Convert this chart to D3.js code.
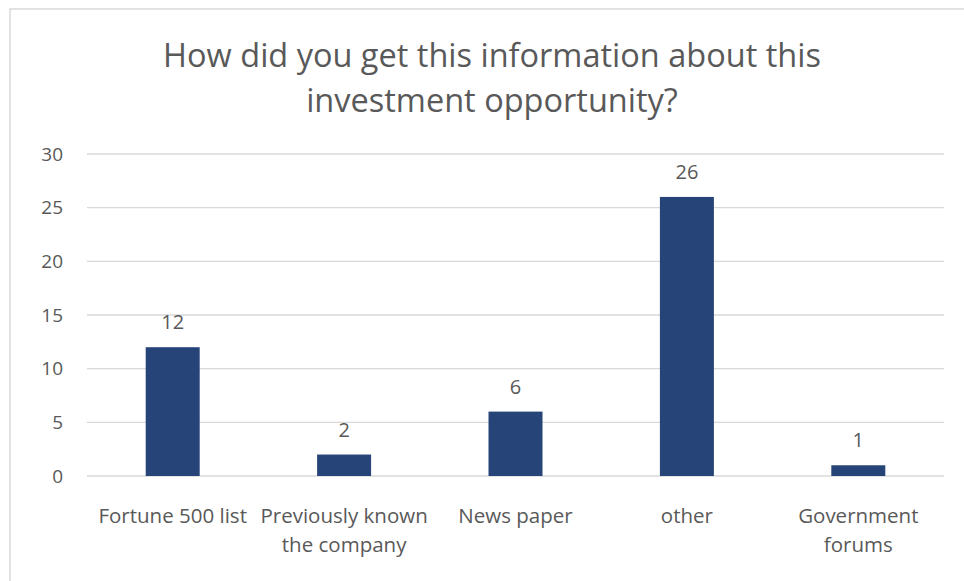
<!DOCTYPE html>
<html>
<head>
<meta charset="utf-8">
<script src="https://cdn.jsdelivr.net/npm/d3@7"></script>
<style>
  html, body { margin: 0; padding: 0; background: #fff; }
  svg { display: block; }
  text { font-family: "Open Sans", "Liberation Sans", sans-serif; fill: #595959; }
</style>
</head>
<body>
<svg id="chart" width="964" height="581"></svg>
<script>
// Survey answers: where respondents heard about the investment opportunity
const categories = [
  ["Fortune 500 list"],
  ["Previously known", "the company"],
  ["News paper"],
  ["other"],
  ["Government", "forums"]
];
const counts = [12, 2, 6, 26, 1];
const yTicks = [0, 5, 10, 15, 20, 25, 30];
const titleLines = ["How did you get this information about this", "investment opportunity?"];

const svg = d3.select("#chart");
const W = 964, H = 581;
const plot = { left: 87, right: 944, top: 154, bottom: 476 };

// chart frame
svg.append("rect")
  .attr("x", 10).attr("y", 9)
  .attr("width", W).attr("height", H)
  .attr("fill", "#fff").attr("stroke", "#d9d9d9").attr("stroke-width", 1.5);

const keys = categories.map((c, i) => i);
const x = d3.scaleBand().domain(keys).range([plot.left, plot.right]).paddingInner(0.685).paddingOuter(0.3425);
const y = d3.scaleLinear().domain([0, 30]).range([plot.bottom, plot.top]);

// horizontal gridlines
svg.append("g").selectAll("line").data(yTicks).join("line")
  .attr("x1", plot.left).attr("x2", plot.right)
  .attr("y1", d => y(d)).attr("y2", d => y(d))
  .attr("stroke", "#d9d9d9").attr("stroke-width", 1.3);

// y axis labels
const yAxis = d3.axisLeft(y).tickValues(yTicks).tickSize(0).tickPadding(0);
const gy = svg.append("g").attr("transform", "translate(63,0)").call(yAxis);
gy.select(".domain").remove();
gy.selectAll("text").attr("font-size", 19).attr("fill", "#595959")
  .style("font-family", "'Open Sans', 'Liberation Sans', sans-serif");

// bars
svg.append("g").selectAll("rect").data(counts).join("rect")
  .attr("x", (d, i) => x(i))
  .attr("y", d => y(d))
  .attr("width", x.bandwidth())
  .attr("height", d => y(0) - y(d))
  .attr("fill", "#264478");

// value labels
svg.append("g").selectAll("text").data(counts).join("text")
  .attr("x", (d, i) => x(i) + x.bandwidth() / 2)
  .attr("y", d => y(d) - 18)
  .attr("text-anchor", "middle")
  .attr("font-size", 20)
  .text(d => d);

// category labels
const cat = svg.append("g").selectAll("text").data(categories).join("text")
  .attr("x", (d, i) => x(i) + x.bandwidth() / 2)
  .attr("y", 523)
  .attr("text-anchor", "middle")
  .attr("font-size", 20.5);
cat.selectAll("tspan").data(d => d).join("tspan")
  .attr("x", function () { return this.parentNode.getAttribute("x"); })
  .attr("dy", (d, j) => j === 0 ? 0 : 29)
  .text(d => d);

// title
svg.append("g").selectAll("text").data(titleLines).join("text")
  .attr("x", 492)
  .attr("y", (d, i) => 67 + i * 45)
  .attr("text-anchor", "middle")
  .attr("font-size", 32.5)
  .text(d => d);
</script>
</body>
</html>
